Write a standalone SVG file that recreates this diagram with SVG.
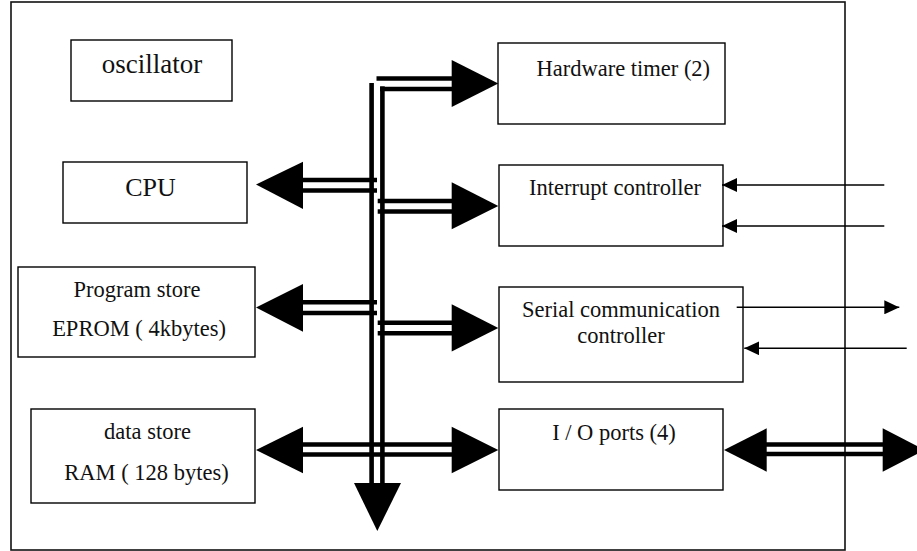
<svg xmlns="http://www.w3.org/2000/svg" width="917" height="551" viewBox="0 0 917 551">
  <style>
    .frame { fill: none; stroke: #111; stroke-width: 1.6; }
    .box { fill: #fff; stroke: #000; stroke-width: 1.4; }
    .lbl { fill: #111; text-anchor: middle; }
    .bus { fill: none; stroke: #000; stroke-width: 4.6; }
    .sig { fill: none; stroke: #000; stroke-width: 1.6; }
    .head { fill: #000; }
  </style>
  <defs>
    <marker id="tipWide" viewBox="0 0 15 14" refX="15" refY="7" markerWidth="15" markerHeight="14" markerUnits="userSpaceOnUse" orient="auto">
      <path d="M0,0 L15,7 L0,14 Z" fill="#000"/>
    </marker>
  </defs>

  <!-- chip boundary -->
  <rect class="frame" x="11" y="2" width="834" height="548"/>

  <g font-family="Liberation Serif, Times New Roman, DejaVu Serif, serif" font-size="22.5">
    <g id="oscillator">
      <rect class="box" x="71" y="40" width="161" height="61"/>
      <text class="lbl" x="152" y="73" font-size="27">oscillator</text>
    </g>
    <g id="cpu">
      <rect class="box" x="63" y="162" width="184" height="61"/>
      <text class="lbl" x="150.5" y="196" font-size="26">CPU</text>
    </g>
    <g id="program-store">
      <rect class="box" x="18" y="267" width="237" height="90"/>
      <text class="lbl" x="137" y="297">Program store</text>
      <text class="lbl" x="139" y="336">EPROM ( 4kbytes)</text>
    </g>
    <g id="data-store">
      <rect class="box" x="31" y="409" width="224" height="94"/>
      <text class="lbl" x="147.5" y="439">data store</text>
      <text class="lbl" x="146.5" y="480">RAM ( 128 bytes)</text>
    </g>
    <g id="hardware-timer">
      <rect class="box" x="498" y="43" width="227" height="81"/>
      <text class="lbl" x="623.3" y="75.7">Hardware timer (2)</text>
    </g>
    <g id="interrupt-controller">
      <rect class="box" x="499" y="165" width="224" height="81"/>
      <text class="lbl" x="615" y="194.5">Interrupt controller</text>
    </g>
    <g id="serial-controller">
      <rect class="box" x="499" y="287" width="244" height="95"/>
      <text class="lbl" x="621" y="316.7">Serial communication</text>
      <text class="lbl" x="621" y="342.5">controller</text>
    </g>
    <g id="io-ports">
      <rect class="box" x="499" y="409" width="224" height="81"/>
      <text class="lbl" x="614" y="440">I / O ports (4)</text>
    </g>
  </g>

  <g id="connectors">
    <!-- internal bus: vertical pair -->
    <line class="bus" x1="371.6" y1="83" x2="371.6" y2="484"/>
    <line class="bus" x1="382.4" y1="86.5" x2="382.4" y2="484"/>
    <polygon class="head" points="354,483 401,483 377.3,531"/>

    <!-- bus to hardware timer -->
    <polyline class="bus" points="376.5,78.5 452,78.5"/>
    <polyline class="bus" points="382.4,86.5 382.4,89 452,89"/>
    <polygon class="head" points="451.7,60 498.3,83.5 451.7,107"/>

    <!-- bus to CPU -->
    <line class="bus" x1="303" y1="180" x2="377" y2="180"/>
    <line class="bus" x1="303" y1="190.5" x2="377" y2="190.5"/>
    <polygon class="head" points="303,161.7 256,184.5 303,209"/>

    <!-- bus to interrupt controller -->
    <line class="bus" x1="377.7" y1="201" x2="452" y2="201"/>
    <line class="bus" x1="377.7" y1="211.5" x2="452" y2="211.5"/>
    <polygon class="head" points="451.7,182.3 498.3,206 451.7,229.3"/>

    <!-- bus to program store -->
    <line class="bus" x1="303" y1="302.3" x2="377" y2="302.3"/>
    <line class="bus" x1="303" y1="313" x2="377" y2="313"/>
    <polygon class="head" points="303,284 256,307.5 303,331.7"/>

    <!-- bus to serial controller -->
    <line class="bus" x1="377.7" y1="322.7" x2="452" y2="322.7"/>
    <line class="bus" x1="377.7" y1="333.3" x2="452" y2="333.3"/>
    <polygon class="head" points="451.7,304.3 498.3,328 451.7,351.5"/>

    <!-- data store <-> bus <-> I/O ports -->
    <line class="bus" x1="303" y1="444.5" x2="452" y2="444.5"/>
    <line class="bus" x1="303" y1="454.5" x2="452" y2="454.5"/>
    <polygon class="head" points="303,426.7 256,450 303,473.3"/>
    <polygon class="head" points="451.7,426.7 498.3,450 451.7,473.3"/>

    <!-- external interrupt inputs -->
    <line class="sig" x1="884.3" y1="185" x2="722" y2="185" marker-end="url(#tipWide)"/>
    <line class="sig" x1="884.3" y1="226" x2="722" y2="226" marker-end="url(#tipWide)"/>

    <!-- serial transmit / receive -->
    <line class="sig" x1="736.7" y1="307.3" x2="899.3" y2="307.3" marker-end="url(#tipWide)"/>
    <line class="sig" x1="906.7" y1="348.3" x2="744.3" y2="348.3" marker-end="url(#tipWide)"/>

    <!-- I/O port lines -->
    <line class="bus" x1="766" y1="444.5" x2="884" y2="444.5"/>
    <line class="bus" x1="766" y1="454" x2="884" y2="454"/>
    <polygon class="head" points="766.7,428.3 724,450 766.7,471.7"/>
    <polygon class="head" points="882.7,428.3 925,450 882.7,471.7"/>
  </g>
</svg>
